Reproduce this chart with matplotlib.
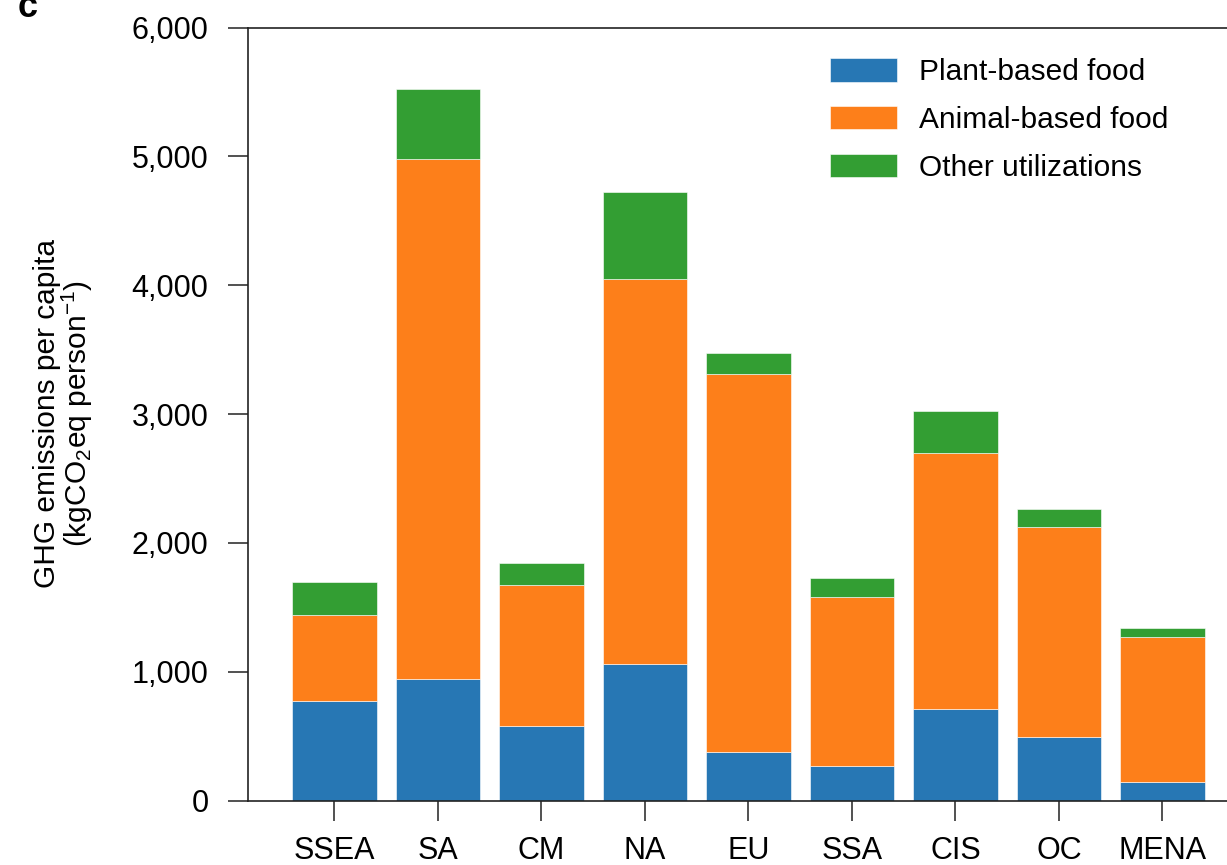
import matplotlib
matplotlib.use("Agg")
import matplotlib.pyplot as plt
import numpy as np

plt.rcParams["font.family"] = ["Liberation Sans", "DejaVu Sans"]
plt.rcParams["mathtext.fontset"] = "custom"
plt.rcParams["mathtext.rm"] = "Liberation Sans"
plt.rcParams["mathtext.it"] = "Liberation Sans:italic"

REGIONS = ["SSEA", "SA", "CM", "NA", "EU", "SSA", "CIS", "OC", "MENA"]
PLANT = [770, 941, 581, 1057, 374, 270, 708, 491, 144]
ANIMAL = [670, 4036, 1092, 2993, 2934, 1312, 1992, 1632, 1128]
OTHER = [258, 543, 168, 671, 163, 143, 323, 140, 65]

SERIES = [
    ("Plant-based food", PLANT, "#2777b4"),
    ("Animal-based food", ANIMAL, "#fd7f1a"),
    ("Other utilizations", OTHER, "#339e33"),
]
YTICKS = [0, 1000, 2000, 3000, 4000, 5000, 6000]

W, H = 1227, 865
fig = plt.figure(figsize=(W / 100, H / 100), dpi=100)
# axes runs past the right edge of the figure, so the right spine is cut off
ax = fig.add_axes([248 / W, 1 - 800.5 / H, 1018 / W, 773 / H])

x = np.arange(len(REGIONS))
bottom = np.zeros(len(REGIONS))
for label, values, color in SERIES:
    vals = np.asarray(values, dtype=float)
    ax.bar(x, vals, width=0.815, bottom=bottom, color=color, label=label,
           edgecolor="white", linewidth=0.4)
    bottom += vals

ax.set_xlim(-0.835, 9.0)
ax.set_ylim(0, 6000)
ax.set_xticks(x)
ax.set_xticklabels(REGIONS)
ax.set_yticks(YTICKS)
ax.set_yticklabels([f"{v:,}" for v in YTICKS])

for side in ("left", "bottom", "top", "right"):
    ax.spines[side].set_linewidth(1.2)
    ax.spines[side].set_color("#222222")

ax.tick_params(axis="both", direction="out", length=14.5, width=1.1,
               color="#222222", labelsize=22)
ax.tick_params(axis="y", pad=14)
ax.tick_params(axis="x", pad=11)

ax.set_ylabel("GHG emissions per capita\n(kgCO$_2$eq person$^{-1}$)",
              fontsize=21.5, linespacing=0.95)
ax.yaxis.label.set_va("center")
ax.yaxis.set_label_coords(-0.181, 0.5)

ax.legend(loc="upper left", bbox_to_anchor=(818 / W, 1 - 46 / H),
          bbox_transform=fig.transFigure, frameon=False, fontsize=21.5,
          handlelength=2.24, handleheight=0.84, handletextpad=0.74,
          labelspacing=0.66, borderaxespad=0)

# panel letter, clipped by the top edge
fig.text(28 / W, 1 - 17 / H, "c", fontsize=26, fontweight="bold",
         ha="center", va="baseline")

fig.savefig("out.png", dpi=100)
